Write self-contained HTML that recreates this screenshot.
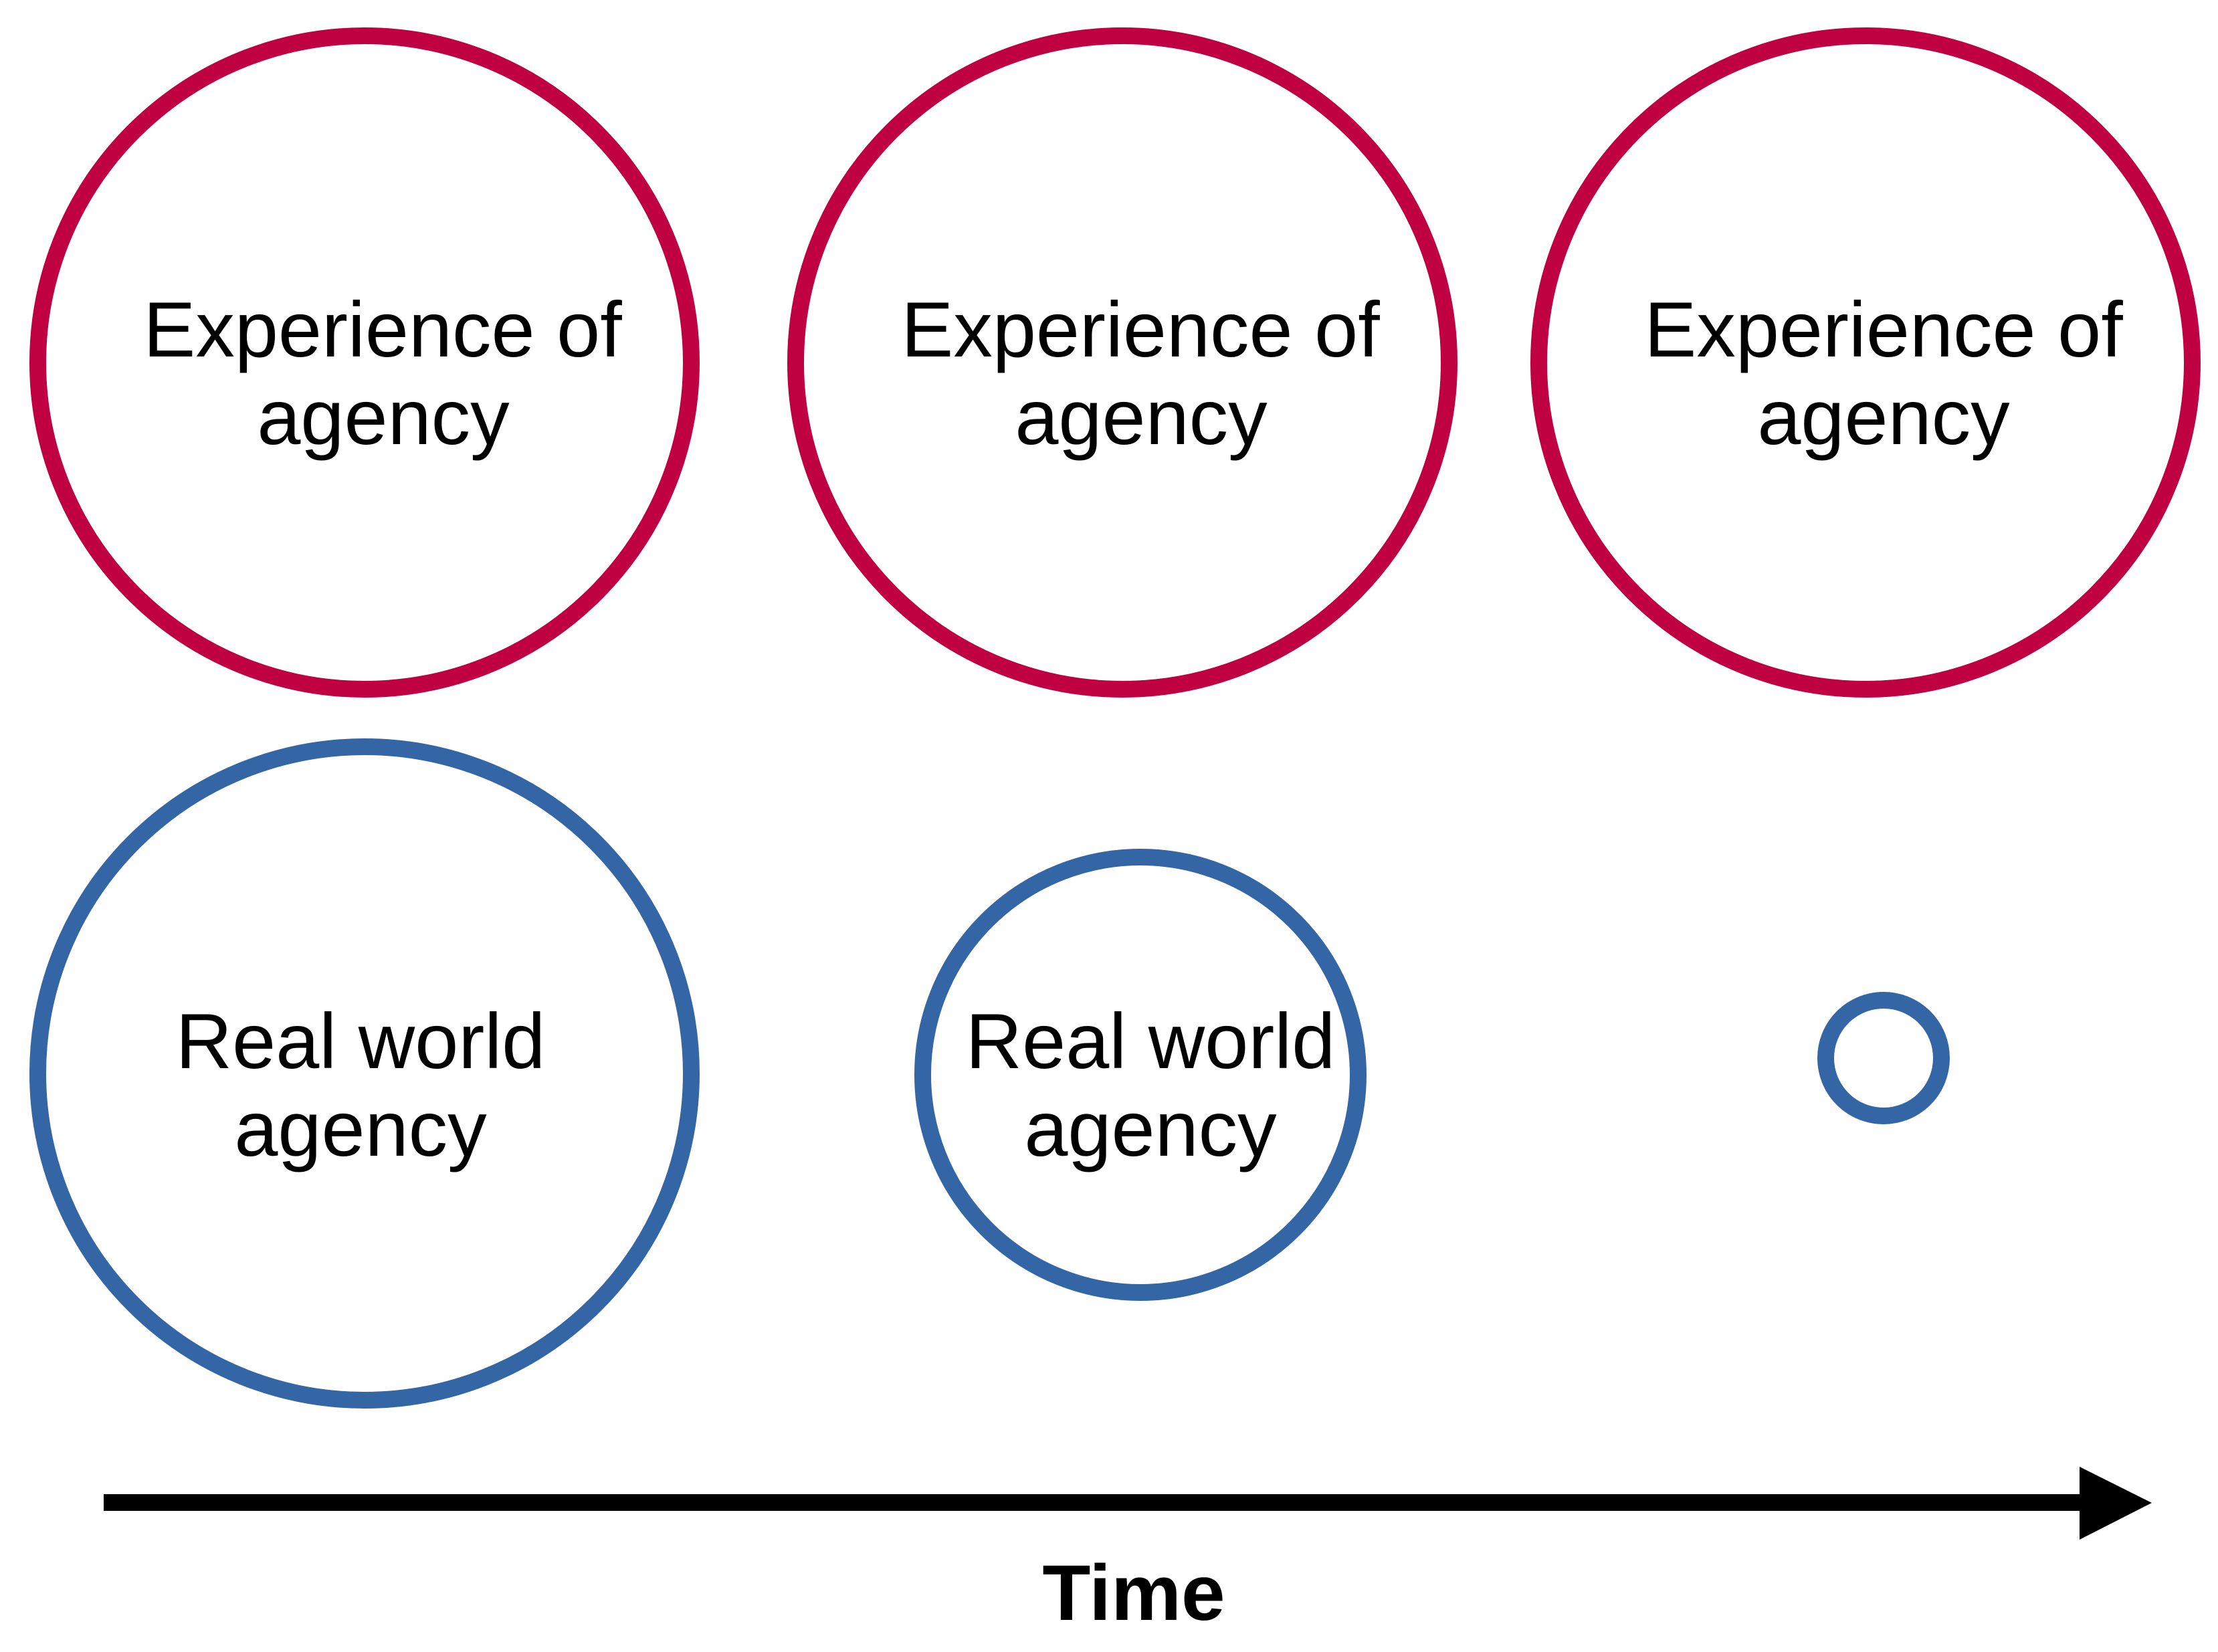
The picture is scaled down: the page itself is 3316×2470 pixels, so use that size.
<!DOCTYPE html>
<html>
<head>
<meta charset="utf-8">
<style>
  html, body { margin: 0; padding: 0; background: #ffffff; }
  body { width: 3316px; height: 2470px; overflow: hidden; }
  svg { display: block; }
  text { font-family: "Liberation Sans", Arial, sans-serif; fill: #000; }
</style>
</head>
<body>
<svg width="3316" height="2470" viewBox="0 0 3316 2470" xmlns="http://www.w3.org/2000/svg">
  <rect x="0" y="0" width="3316" height="2470" fill="#ffffff"/>

  <!-- Top row: Experience of agency (red) -->
  <circle cx="545" cy="542" r="488.5" fill="#ffffff" stroke="#BF0041" stroke-width="25"/>
  <circle cx="1678" cy="542" r="488.5" fill="#ffffff" stroke="#BF0041" stroke-width="25"/>
  <circle cx="2789" cy="542" r="488.5" fill="#ffffff" stroke="#BF0041" stroke-width="25"/>

  <g font-size="117" text-anchor="middle">
    <text x="572" y="533">Experience of</text>
    <text x="573" y="664">agency</text>
    <text x="1705" y="533">Experience of</text>
    <text x="1706" y="664">agency</text>
    <text x="2816" y="533">Experience of</text>
    <text x="2816" y="664">agency</text>
  </g>

  <!-- Bottom row: Real world agency (blue) -->
  <circle cx="545" cy="1605" r="488.5" fill="#ffffff" stroke="#3465A4" stroke-width="25"/>
  <circle cx="1705" cy="1607" r="325.5" fill="#ffffff" stroke="#3465A4" stroke-width="25"/>
  <circle cx="2816" cy="1582" r="86.5" fill="#ffffff" stroke="#3465A4" stroke-width="25"/>

  <g font-size="117" text-anchor="middle">
    <text x="539" y="1597">Real world</text>
    <text x="539" y="1728">agency</text>
    <text x="1720" y="1597">Real world</text>
    <text x="1720" y="1728">agency</text>
  </g>

  <!-- Time arrow -->
  <rect x="155" y="2234" width="2956" height="25" fill="#000000"/>
  <polygon points="3109,2193 3217,2247 3109,2302" fill="#000000"/>

  <text x="1695" y="2422" font-size="118" font-weight="bold" text-anchor="middle">Time</text>
</svg>
</body>
</html>
